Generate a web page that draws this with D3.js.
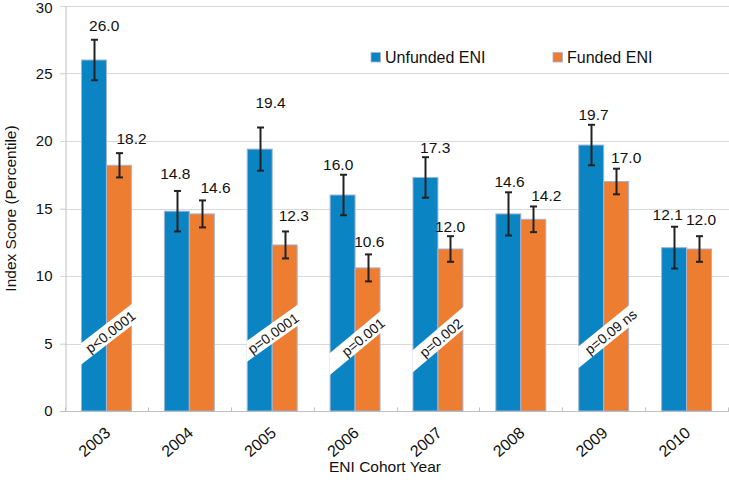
<!DOCTYPE html>
<html>
<head>
<meta charset="utf-8">
<script src="https://cdn.jsdelivr.net/npm/d3@7"></script>
<style>
  html, body { margin: 0; padding: 0; background: #fff; }
  svg { display: block; font-family: "Liberation Sans", Arial, sans-serif; }
</style>
</head>
<body>
<svg id="chart" width="729" height="486"></svg>
<script>
// ---- data ----
const years = ["2003", "2004", "2005", "2006", "2007", "2008", "2009", "2010"];
const seriesNames = ["Unfunded ENI", "Funded ENI"];
const unfunded = [26.0, 14.8, 19.4, 16.0, 17.3, 14.6, 19.7, 12.1];
const funded = [18.2, 14.6, 12.3, 10.6, 12.0, 14.2, 17.0, 12.0];
const unfundedErr = [1.5, 1.5, 1.6, 1.5, 1.5, 1.6, 1.5, 1.55];
const fundedErr = [0.9, 1.0, 1.0, 1.0, 0.95, 0.95, 0.95, 0.95];
const yTicks = [0, 5, 10, 15, 20, 25, 30];
const pYears = ["2003", "2005", "2006", "2007", "2009"];
const pLabels = ["p<0.0001", "p=0.0001", "p=0.001", "p=0.002", "p=0.09 ns"];
const pLevel = [5.87, 5.76, 5.47, 5.42, 5.87];

// ---- layout (label nudges, px) ----
const unfDx = [9.7, -2.2, 10, -5.3, 9.7, 1, 2, -6.8];
const unfGap = [9, 11.7, 20, 4.7, 4, 5, 5.3, 6.3];
const funDx = [12, 13, 8.3, 0.8, -0.5, 12.8, 9.7, 1.5];
const funGap = [8.7, 7.7, 10, 7.4, 4.6, 5.3, 6, 11];
const pDx = [4, 1, 8, 3, 7];
const pAngle = [-37.7, -35.5, -39.6, -40.5, -39];

const colors = ["#0a84c2", "#ed7d31"];

const svg = d3.select("#chart");
const x0 = d3.scaleBand().domain(years).range([65, 728]).padding(0);
const x1 = d3.scaleBand().domain([0, 1]).range([0, x0.bandwidth()]).paddingInner(0).paddingOuter(0.66);
const y = d3.scaleLinear().domain([0, 30]).range([411, 6]);

// gridlines
svg.append("g").selectAll("line").data(yTicks.filter(d => d > 0)).join("line")
  .attr("x1", 60).attr("x2", 729)
  .attr("y1", d => Math.round(y(d)) + 0.5).attr("y2", d => Math.round(y(d)) + 0.5)
  .attr("stroke", "#d9d9d9").attr("stroke-width", 1);

// y axis
const yAxis = svg.append("g").attr("transform", "translate(65.5,0)")
  .call(d3.axisLeft(y).tickValues(yTicks).tickSize(5).tickPadding(8).tickFormat(d3.format("d")));
yAxis.select(".domain").attr("stroke", "#bfbfbf");
yAxis.selectAll(".tick line").attr("stroke", "#d9d9d9");
yAxis.selectAll(".tick text").attr("font-size", 15).attr("fill", "#111")
  .attr("font-family", "Liberation Sans, Arial, sans-serif")
  .attr("dy", d => d === 30 ? "0.42em" : "0.32em");

// x axis
const xAxisG = svg.append("g").attr("transform", "translate(0,411.5)");
xAxisG.append("line").attr("x1", 60).attr("x2", 729).attr("stroke", "#bfbfbf");
xAxisG.selectAll("line.tk").data(d3.range(years.length + 1)).join("line").attr("class", "tk")
  .attr("x1", i => Math.round(65 + i * x0.step()) + 0.5).attr("x2", i => Math.round(65 + i * x0.step()) + 0.5)
  .attr("y1", -4).attr("y2", 0).attr("stroke", "#bfbfbf");
xAxisG.selectAll("text").data(years).join("text")
  .attr("transform", d => `translate(${x0(d) + x0.bandwidth() / 2 + 5},${23}) rotate(-41)`)
  .attr("text-anchor", "end").attr("font-size", 16).attr("fill", "#111").text(d => d);

// bars
const series = [unfunded, funded];
const errs = [unfundedErr, fundedErr];
const groups = svg.append("g").selectAll("g").data(years).join("g")
  .attr("transform", d => `translate(${x0(d)},0)`);
[0, 1].forEach(s => {
  groups.append("rect")
    .attr("x", (d, i) => x1(s))
    .attr("width", x1.bandwidth())
    .attr("y", (d, i) => y(series[s][i]))
    .attr("height", (d, i) => y(0) - y(series[s][i]))
    .attr("fill", colors[s])
    .attr("stroke", "#a3b4d4").attr("stroke-width", 1);
});

// p-value bands
const defs = svg.append("defs");
pYears.forEach((yr, k) => {
  const gx = x0(yr);
  defs.append("clipPath").attr("id", "clip" + k).append("rect")
    .attr("x", gx + x1(0) - 0.5).attr("width", 2 * x1.bandwidth() + 1.5)
    .attr("y", 0).attr("height", y(0));
  const cx = gx + x0.bandwidth() / 2 + pDx[k];
  const cy = y(pLevel[k]);
  svg.append("g").attr("clip-path", `url(#clip${k})`).append("rect")
    .attr("x", -70).attr("y", -9).attr("width", 140).attr("height", 17)
    .attr("fill", "#fff")
    .attr("transform", `translate(${cx},${cy}) rotate(${pAngle[k]})`);
  svg.append("text")
    .attr("transform", `translate(${cx},${cy}) rotate(${pAngle[k]})`)
    .attr("text-anchor", "middle").attr("dy", "0.36em")
    .attr("font-size", 14).attr("fill", "#111").text(pLabels[k]);
});

// error bars and value labels
[0, 1].forEach(s => {
  const dx = s === 0 ? unfDx : funDx;
  const gap = s === 0 ? unfGap : funGap;
  years.forEach((yr, i) => {
    const cx = Math.round(x0(yr) + x1(s) + x1.bandwidth() / 2) + 0.5;
    const v = series[s][i], e = errs[s][i];
    const g = svg.append("g").attr("stroke", "#222").attr("stroke-width", 2);
    g.append("line").attr("x1", cx).attr("x2", cx).attr("y1", y(v + e)).attr("y2", y(v - e));
    g.append("line").attr("x1", cx - 3.5).attr("x2", cx + 3.5).attr("y1", y(v + e)).attr("y2", y(v + e));
    g.append("line").attr("x1", cx - 3.5).attr("x2", cx + 3.5).attr("y1", y(v - e)).attr("y2", y(v - e));
    svg.append("text")
      .attr("x", cx + dx[i]).attr("y", y(v + e) - gap[i])
      .attr("text-anchor", "middle").attr("font-size", 15.5).attr("fill", "#111")
      .text(d3.format(".1f")(v));
  });
});

// axis titles
svg.append("text")
  .attr("transform", `translate(16,${y(15)}) rotate(-90)`)
  .attr("text-anchor", "middle").attr("font-size", 15.5).attr("fill", "#111")
  .text("Index Score (Percentile)");
svg.append("text")
  .attr("x", 385).attr("y", 472)
  .attr("text-anchor", "middle").attr("font-size", 15.5).attr("fill", "#111")
  .text("ENI Cohort Year");

// legend
const legendX = [371, 553];
seriesNames.forEach((n, s) => {
  svg.append("rect").attr("x", legendX[s]).attr("y", 52.5).attr("width", 9.5).attr("height", 9.5)
    .attr("fill", colors[s]).attr("stroke", "#a3b4d4").attr("stroke-width", 0.8);
  svg.append("text").attr("x", legendX[s] + 14).attr("y", 63)
    .attr("font-size", 16).attr("fill", "#111").text(n);
});
</script>
</body>
</html>
